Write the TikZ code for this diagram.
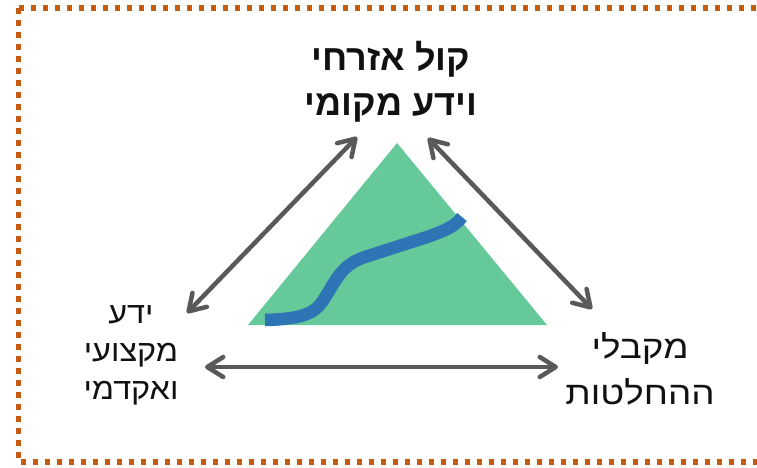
\documentclass[tikz,border=0pt]{standalone}
\usepackage{fontspec}
\usepackage{tikz}
\usetikzlibrary{arrows.meta,positioning}
\newfontfamily\hebfont[Script=Hebrew]{Liberation Sans}
\newfontfamily\hebwide[Script=Hebrew,FakeStretch=1.15]{Liberation Sans}
\newfontfamily\hebmid[Script=Hebrew,FakeStretch=1.08]{Liberation Sans}
\TeXXeTstate=1
\definecolor{ink}{HTML}{111111}
\definecolor{framedot}{HTML}{C55A11}
\definecolor{trifill}{HTML}{66C99A}
\definecolor{riverblue}{HTML}{2E75B6}
\definecolor{arrgray}{HTML}{595959}
\tikzset{
  toplabel/.style={align=center,text=ink,inner sep=0pt,
    font=\hebfont\bfseries\fontsize{36}{45}\selectfont},
  sidelabel/.style={align=center,text=ink,inner sep=0pt,
    font=\hebmid\fontsize{30}{38}\selectfont},
  linkarr/.style={<->,>={Straight Barb[length=16pt,width=20pt,round]},
    line width=4.5pt,draw=arrgray},
  riverline/.style={draw=riverblue,line width=12.5pt},
  dotframe/.style={draw=framedot,line width=5.5pt,dash pattern=on 5.5pt off 6.5pt},
}

\begin{document}
\begin{tikzpicture}[x=1pt,y=-1pt]
  \useasboundingbox (0,0) rectangle (757,467);
  \begin{scope}
    \clip (0,0) rectangle (757,467);
    \draw[dotframe] (18.5,8) -- (780,8) (18.5,8) -- (18.5,462) -- (780,462);
  \end{scope}

  % triangle and river
  \coordinate (apex) at (397,143);
  \coordinate (baseR) at (547,325);
  \coordinate (baseL) at (248,325);
  \fill[trifill] (apex) -- (baseR) -- (baseL) -- cycle;
  \draw[riverline] (265,320) .. controls (300,319) and (314,314) .. (322,302)
    .. controls (335,283) and (340,265) .. (365,257) -- (427,237)
    .. controls (447,230) and (455,226) .. (462,217);

  % labels
  \node[toplabel] (civic) at (391,82) {\beginR קול אזרחי\endR\\\beginR וידע מקומי\endR};
  \node[sidelabel] (expert) at (131,355) {\beginR ידע\endR\\\beginR מקצועי\endR\\\beginR ואקדמי\endR};
  \node[sidelabel,font=\hebwide\fontsize{32}{46}\selectfont] (decide) at (640,369) {\beginR מקבלי\endR\\\beginR ההחלטות\endR};

  % arrow ends
  \coordinate (civL) at (357,137);
  \coordinate (expT) at (187,313);
  \coordinate (civR) at (428,138);
  \coordinate (decT) at (592,309);
  \coordinate (expR) at (205,367);
  \coordinate (decL) at (558,367);

  \draw[linkarr] (expT) -- (civL);
  \draw[linkarr] (civR) -- (decT);
  \draw[linkarr] (expR) -- (decL);
\end{tikzpicture}
\end{document}
